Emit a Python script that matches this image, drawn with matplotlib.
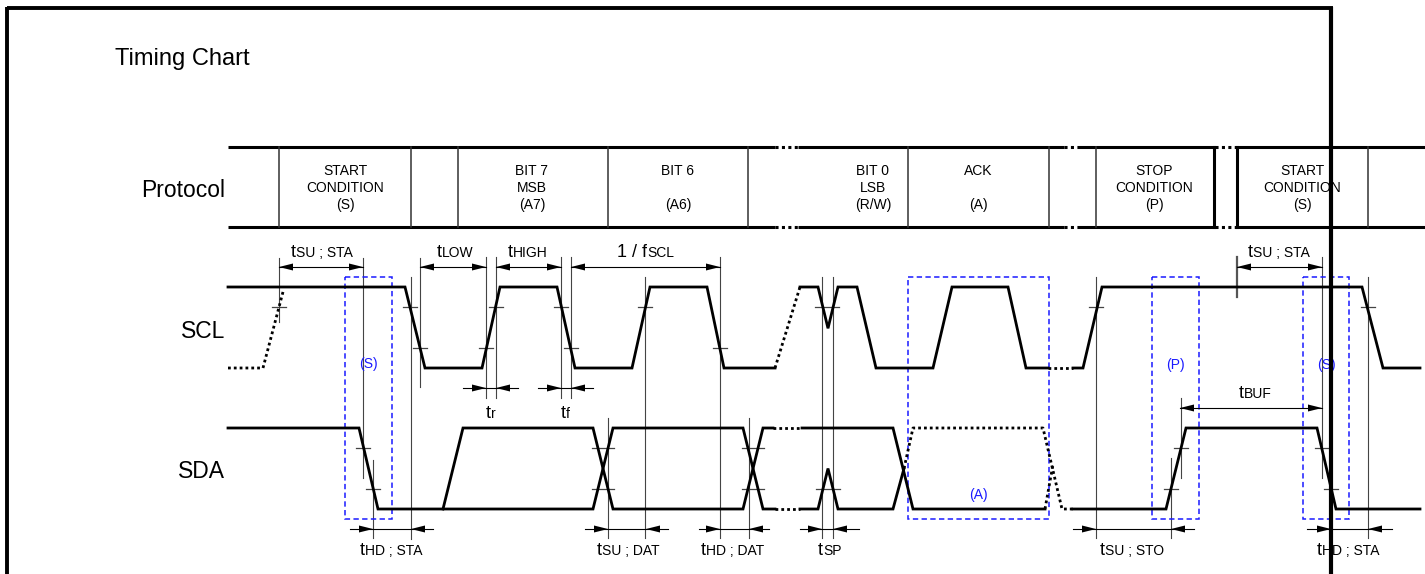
import matplotlib.pyplot as plt
from matplotlib.patches import Polygon, Rectangle

plt.rcParams["font.family"] = ["Liberation Sans", "DejaVu Sans"]

W, H = 1425, 574

# rails for each signal: (low row, high row) in picture pixels
SCL_RAIL = (368, 287)
SDA_RAIL = (509, 428)

title = "Timing Chart"
row_labels = [("Protocol", 197), ("SCL", 338), ("SDA", 478)]

# protocol table
table_rows = (146.5, 226.5)
table_solid_runs = [(228, 775), (798, 1064), (1077, 1215), (1236, 1425)]
table_dotted_runs = [(775, 798), (1064, 1077), (1215, 1236)]
thin_dividers = [279, 411, 458, 608, 748, 908, 1049, 1096, 1368]
thick_dividers = [1214, 1237]
cell_text = [
    (345, ["START", "CONDITION", "(S)"]),
    (532, ["BIT 7", "MSB", "(A7)"]),
    (678, ["BIT 6", "", "(A6)"]),
    (873, ["BIT 0", "LSB", "(R/W)"]),
    (978, ["ACK", "", "(A)"]),
    (1154, ["STOP", "CONDITION", "(P)"]),
    (1302, ["START", "CONDITION", "(S)"]),
]
cell_baselines = [175, 192, 209]

# waveforms: (time, level) with level 0 = low, 1 = high
scl_solid = [
    [(228, 1), (405, 1), (425, 0), (482, 0), (500, 1), (557, 1), (575, 0),
     (632, 0), (650, 1), (707, 1), (724, 0), (775, 0)],
    [(800, 1), (818, 1), (828, 0.49), (838, 1), (857, 1), (876, 0), (933, 0),
     (952, 1), (1008, 1), (1026, 0), (1048, 0)],
    [(1073, 0), (1083, 0), (1102, 1), (1362, 1), (1383, 0), (1420, 0)],
]
scl_dotted = [
    [(228, 0), (263, 0), (283, 0.94)],
    [(775, 0), (800, 1)],
    [(1048, 0), (1073, 0)],
]
sda_solid = [
    [(228, 1), (359, 1), (378, 0), (593, 0), (613, 1), (743, 1), (763, 0), (775, 0)],
    [(443, 0), (463, 1), (593, 1), (613, 0), (743, 0), (763, 1), (773, 1)],
    [(802, 1), (893, 1), (913, 0), (1045, 0)],
    [(800, 0), (818, 0), (828, 0.5), (838, 0), (893, 0), (904, 0.5)],
    [(1073, 0), (1166, 0), (1186, 1), (1317, 1), (1336, 0), (1420, 0)],
]
sda_dotted = [
    [(773, 1), (802, 1)],
    [(775, 0), (800, 0)],
    [(904, 0.5), (913, 1), (1043, 1), (1062, 0), (1073, 0)],
    [(1045, 0), (1053, 0.55)],
]

# threshold marks: (time, level, half width)
scl_marks = [(279, 0.75, 7), (410, 0.75, 7), (420, 0.25, 7), (486, 0.25, 7),
             (496, 0.75, 7), (561, 0.75, 7), (571, 0.25, 7), (645, 0.75, 7),
             (720, 0.25, 7), (827, 0.75, 12), (1096, 0.75, 7), (1368, 0.75, 7)]
sda_marks = [(363, 0.75, 7), (373, 0.25, 7), (603, 0.75, 11), (603, 0.25, 11),
             (753, 0.75, 11), (753, 0.25, 11), (828, 0.25, 12), (1171, 0.25, 7),
             (1181, 0.75, 7), (1322, 0.75, 7), (1331, 0.25, 7)]

# timing reference lines: (x, top, bottom)
ref_lines = [(279, 258, 322), (363, 258, 478), (373, 460, 538), (411, 277, 539),
             (420, 258, 387), (486, 257, 398), (496, 257, 398), (561, 257, 398),
             (571, 257, 398), (645, 277, 538), (608, 418, 538), (720, 257, 538),
             (749, 418, 538), (822, 277, 538), (833, 277, 538), (1096, 277, 538),
             (1171, 458, 538), (1181, 398, 478), (1322, 257, 478), (1331, 460, 538),
             (1368, 277, 538)]
bar_tick = (1237, 257, 297)

# dimension arrows pointing outwards: (x1, x2, y)
outer_arrows = [(279, 363, 267), (420, 486, 267), (496, 561, 267), (571, 720, 267),
                (1237, 1322, 267), (1180, 1322, 408)]
# dimension arrows pointing inwards: (start, tip1, tip2, end, y)
inner_arrows = [(463, 486, 496, 518, 388), (538, 561, 571, 593, 388),
                (350, 373, 411, 433, 529), (585, 608, 646, 668, 529),
                (699, 720, 749, 769, 529), (800, 822, 833, 859, 529),
                (1073, 1096, 1171, 1194, 529), (1307, 1331, 1368, 1392, 529)]

# timing labels: (prefix, suffix, joint x, baseline)
time_labels = [("t", "SU ; STA", 296, 257), ("t", "LOW", 442, 257),
               ("t", "HIGH", 513, 257), ("1 / f", "SCL", 647, 257),
               ("t", "r", 491, 418), ("t", "f", 566, 418),
               ("t", "HD ; STA", 365, 555), ("t", "SU ; DAT", 602, 555),
               ("t", "HD ; DAT", 706, 555), ("t", "SP", 823, 555),
               ("t", "SU ; STO", 1105, 555), ("t", "BUF", 1244, 398),
               ("t", "HD ; STA", 1322, 555), ("t", "SU ; STA", 1253, 257)]

# condition windows (dashed blue): (x1, x2), and their labels
cond_boxes = [(345, 392), (908, 1049), (1152, 1199), (1303, 1349)]
box_rows = (277, 519)
cond_labels = [("(S)", 368, 364), ("(A)", 978, 495), ("(P)", 1175, 365), ("(S)", 1326, 365)]

BLUE = "#1a1aff"
GREY = "#444444"


def to_row(rail, level):
    lo, hi = rail
    return lo - level * (lo - hi)


def draw_wave(ax, segments, rail, dotted=False):
    for seg in segments:
        xs = [p[0] for p in seg]
        ys = [to_row(rail, p[1]) for p in seg]
        if dotted:
            ax.plot(xs, ys, color="black", lw=2.0, ls=(0, (1, 1.1)),
                    dash_capstyle="butt", zorder=4)
        else:
            ax.plot(xs, ys, color="black", lw=2.0, solid_joinstyle="miter", zorder=4)


def draw_marks(ax, marks, rail):
    for x, level, hw in marks:
        y = to_row(rail, level)
        ax.plot([x - hw, x + hw], [y, y], color=GREY, lw=0.9, zorder=3)


def head(ax, x_tip, y, direction):
    length, half = 14, 3.5
    pts = [(x_tip, y), (x_tip - direction * length, y - half),
           (x_tip - direction * length, y + half)]
    ax.add_patch(Polygon(pts, closed=True, facecolor="black", edgecolor="none", zorder=5))


fig = plt.figure(figsize=(W / 100, H / 100), dpi=100)
ax = fig.add_axes([0, 0, 1, 1])
ax.set_xlim(0, W)
ax.set_ylim(H, 0)
ax.axis("off")

# outer frame
ax.plot([7, 1333], [8, 8], color="black", lw=2.8, solid_capstyle="butt")
ax.plot([7, 7], [6.5, H], color="black", lw=2.8, solid_capstyle="butt")
ax.plot([1331, 1331], [6.5, H], color="black", lw=3.0, solid_capstyle="butt", zorder=10)

ax.text(115, 65, title, fontsize=17, ha="left", va="baseline")
for name, base in row_labels:
    ax.text(225, base, name, fontsize=16.5, ha="right", va="baseline")

# protocol table
for y in table_rows:
    for x1, x2 in table_solid_runs:
        ax.plot([x1, x2], [y, y], color="black", lw=2.2, solid_capstyle="butt")
    for x1, x2 in table_dotted_runs:
        ax.plot([x1, x2], [y, y], color="black", lw=2.2, ls=(0, (1, 1.1)),
                dash_capstyle="butt")
for x in thin_dividers:
    ax.plot([x, x], table_rows, color="#333333", lw=1.1)
for x in thick_dividers:
    ax.plot([x, x], table_rows, color="black", lw=2.2)
for cx, lines in cell_text:
    for txt, base in zip(lines, cell_baselines):
        if txt:
            ax.text(cx, base, txt, fontsize=10, ha="center", va="baseline")

# reference lines
for x, y1, y2 in ref_lines:
    ax.plot([x, x], [y1, y2], color=GREY, lw=0.8, zorder=2)
ax.plot([bar_tick[0]] * 2, bar_tick[1:], color="#555555", lw=1.6, zorder=2)

# waveforms
draw_wave(ax, scl_solid, SCL_RAIL)
draw_wave(ax, scl_dotted, SCL_RAIL, dotted=True)
draw_wave(ax, sda_solid, SDA_RAIL)
draw_wave(ax, sda_dotted, SDA_RAIL, dotted=True)
draw_marks(ax, scl_marks, SCL_RAIL)
draw_marks(ax, sda_marks, SDA_RAIL)

# condition windows
for x1, x2 in cond_boxes:
    ax.add_patch(Rectangle((x1, box_rows[0]), x2 - x1, box_rows[1] - box_rows[0],
                           fill=False, edgecolor=BLUE, lw=1.1, ls=(0, (3.5, 2.2)),
                           zorder=3))
for txt, x, y in cond_labels:
    ax.text(x, y, txt, fontsize=10, color=BLUE, ha="center", va="center", zorder=6)

# dimension arrows
for x1, x2, y in outer_arrows:
    ax.plot([x1, x2], [y, y], color="black", lw=0.8, zorder=5)
    head(ax, x1, y, -1)
    head(ax, x2, y, 1)
for s, t1, t2, e, y in inner_arrows:
    ax.plot([s, e], [y, y], color="black", lw=0.8, zorder=5)
    head(ax, t1, y, 1)
    head(ax, t2, y, -1)

for pre, suf, x, base in time_labels:
    ax.text(x, base, pre, fontsize=13, ha="right", va="baseline")
    ax.text(x, base, suf, fontsize=10, ha="left", va="baseline")

fig.savefig("out.png", dpi=100)
